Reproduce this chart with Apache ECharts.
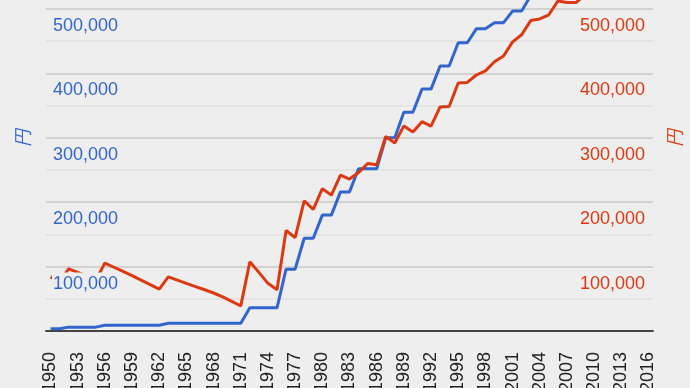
<!DOCTYPE html>
<html>
<head>
<meta charset="utf-8">
<script src="https://cdn.jsdelivr.net/npm/echarts@6/dist/echarts.min.js"></script>
<style>
html,body{margin:0;padding:0;background:#eeeeee;}
#c{width:690px;height:388px;}
</style>
</head>
<body>
<div id="c"></div>
<script>
// Years (categories)
var years = [];
for (var y = 1950; y <= 2016; y++) years.push(String(y));

// Nominal tuition (blue), yen
var nominal = [
  3600, 3600, 6000, 6000, 6000, 6000, 9000, 9000, 9000, 9000,   // 1950-1959
  9000, 9000, 9000, 12000, 12000, 12000, 12000, 12000, 12000, 12000, // 1960-1969
  12000, 12000, 36000, 36000, 36000, 36000, 96000, 96000, 144000, 144000, // 1970-1979
  180000, 180000, 216000, 216000, 252000, 252000, 252000, 300000, 300000, 339600, // 1980-1989
  339600, 375600, 375600, 411600, 411600, 447600, 447600, 469200, 469200, 478800, // 1990-1999
  478800, 496800, 496800, 520800, 520800, 535800, 535800, 535800, 535800, 535800, // 2000-2009
  535800, 535800, 535800, 535800, 535800, 535800, 535800 // 2010-2016
];

// Real (adjusted) tuition (red), yen
var real = [
  84000, 76000, 96500, 91000, 86000, 79000, 105500, 99000, 92500, 86000, // 1950-1959
  79000, 72000, 65000, 84000, 79000, 74000, 69000, 64000, 59000, 53000,  // 1960-1969
  46000, 39000, 107500, 91000, 74000, 64000, 156000, 145000, 202000, 189000, // 1970-1979
  221000, 211000, 242000, 236000, 246000, 260000, 258000, 302000, 292000, 318500, // 1980-1989
  309000, 325000, 318000, 348000, 348500, 385000, 386000, 397500, 404000, 418000, // 1990-1999
  427000, 449000, 460000, 482000, 484500, 491000, 512500, 510000, 510000, 522000, // 2000-2009
  530000, 533000, 536000, 537000, 526000, 521000, 522000 // 2010-2016
];

var yMin = 0, yMax = 600000, yStep = 100000;
var FONT = 'Arial, "Liberation Sans", sans-serif';
var BLUE = '#3366cc', RED = '#dc3912';

function fmt(v){ return Number(v).toLocaleString('en-US'); }

var chart = echarts.init(document.getElementById('c'), null, {renderer:'canvas'});
chart.setOption({
  backgroundColor: '#eeeeee',
  animation: false,
  textStyle: {fontFamily: FONT},
  grid: {left: 46, right: 37, top: -55.4, bottom: 57, containLabel: false, outerBoundsMode: 'none'},
  xAxis: {
    type: 'category',
    data: years,
    boundaryGap: true,
    axisLine: {show: true, lineStyle: {color: '#444444', width: 2}},
    axisTick: {show: false},
    splitLine: {show: false},
    axisLabel: {
      interval: 2, rotate: 90, margin: 21,
      color: '#222222', fontSize: 18, fontFamily: FONT
    }
  },
  yAxis: [
    {
      type: 'value', position: 'left', min: yMin, max: yMax, interval: yStep,
      name: '円', nameLocation: 'middle', nameGap: 13,
      nameTextStyle: {color: BLUE, fontSize: 18, fontStyle: 'italic', fontFamily: FONT},
      axisLine: {show: false}, axisTick: {show: false},
      axisLabel: {show: false},
      splitLine: {show: true, lineStyle: {color: '#d2d2d2', width: 2}},
      minorTick: {show: false, splitNumber: 2},
      minorSplitLine: {show: true, lineStyle: {color: '#e0e0e0', width: 1.5}}
    },
    {
      type: 'value', position: 'right', min: yMin, max: yMax, interval: yStep,
      name: '円', nameLocation: 'middle', nameGap: 14,
      nameTextStyle: {color: RED, fontSize: 18, fontStyle: 'italic', fontFamily: FONT},
      axisLine: {show: false}, axisTick: {show: false},
      splitLine: {show: false},
      axisLabel: {
        inside: true, margin: 8, verticalAlign: 'top', padding: [8, 0, 0, 0],
        color: RED, fontSize: 18, fontFamily: FONT,
        showMinLabel: false, showMaxLabel: false,
        formatter: fmt
      }
    },
    {
      type: 'value', position: 'left', min: yMin, max: yMax, interval: yStep,
      z: 10,
      axisLine: {show: false}, axisTick: {show: false},
      splitLine: {show: false},
      axisLabel: {
        inside: true, margin: 6, verticalAlign: 'top', padding: [6, 0, 0, 0],
        showMinLabel: false, showMaxLabel: false,
        formatter: function(v){ return '{a|' + fmt(v) + '}'; },
        rich: {a: {color: BLUE, fontSize: 18, fontFamily: FONT, backgroundColor: '#eeeeee', padding: [2, 1, 1, 1]}}
      }
    }
  ],
  series: [
    {
      name: 'nominal', type: 'line', yAxisIndex: 0, data: nominal,
      showSymbol: false, symbol: 'none', clip: false,
      lineStyle: {color: BLUE, width: 3}, itemStyle: {color: BLUE}, z: 2
    },
    {
      name: 'real', type: 'line', yAxisIndex: 0, data: real,
      showSymbol: false, symbol: 'none', clip: false,
      lineStyle: {color: RED, width: 3}, itemStyle: {color: RED}, z: 3
    }
  ]
});
</script>
</body>
</html>
